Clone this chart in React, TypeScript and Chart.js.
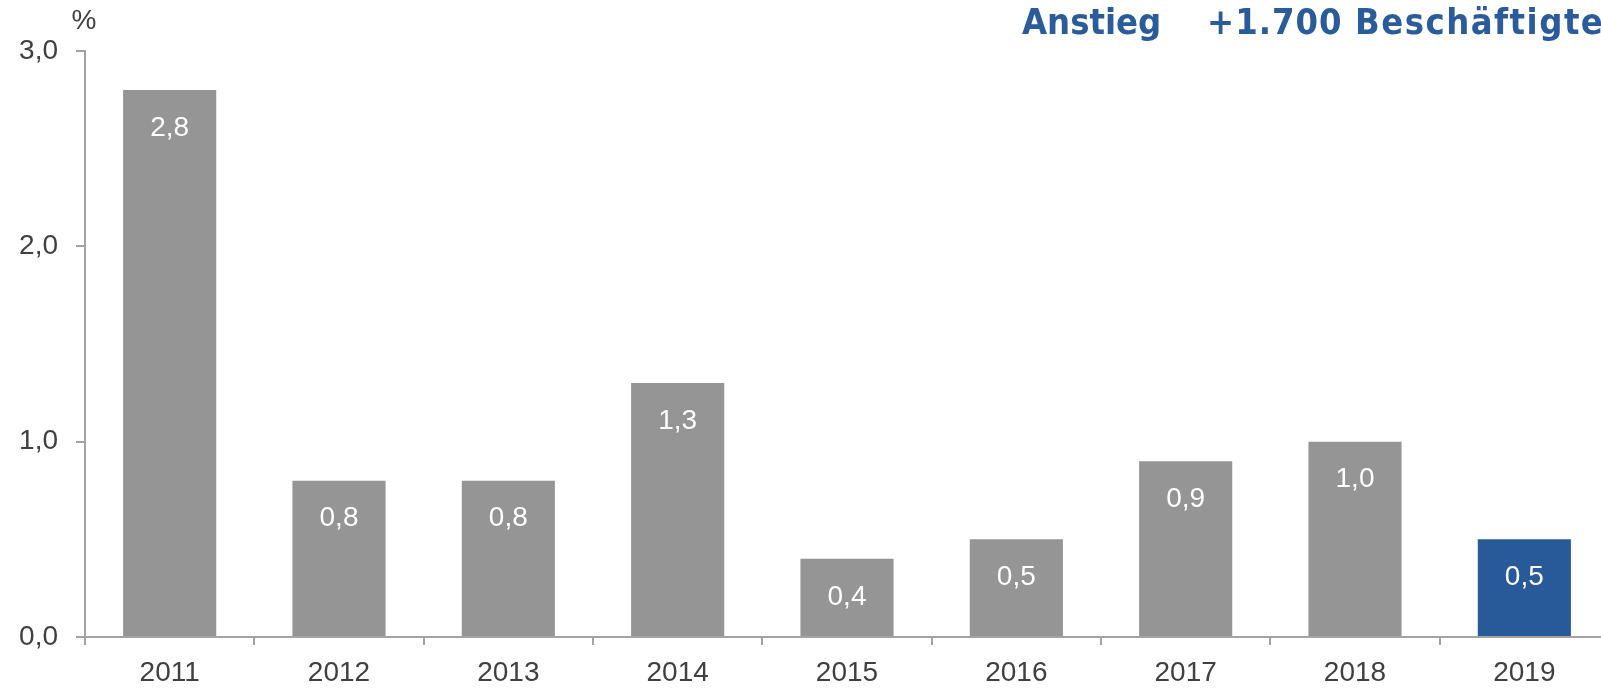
import React, { useEffect, useRef } from "react";
import { Chart, registerables } from "chart.js";

Chart.register(...registerables);

const categories = ["2011", "2012", "2013", "2014", "2015", "2016", "2017", "2018", "2019"];
const values = [2.8, 0.8, 0.8, 1.3, 0.4, 0.5, 0.9, 1.0, 0.5];
const barColors = ["#959595", "#959595", "#959595", "#959595", "#959595", "#959595", "#959595", "#959595", "#285A99"];
const yTicks = [0, 1, 2, 3];
const unitLabel = "%";
const titleParts = ["Anstieg", "+1.700", "Beschäftigte"];

const fmt = (v: number) => v.toFixed(1).replace(".", ",");

const AXIS_COLOR = "#A3A3A3";
const TEXT_COLOR = "#404040";
const FONT = "'Liberation Sans', Arial, sans-serif";

export default function App() {
  const ref = useRef<HTMLCanvasElement | null>(null);
  useEffect(() => {
    if (!ref.current) return;
    const labelPlugin = {
      id: "barLabels",
      afterDatasetsDraw(chart: any) {
        const ctx = chart.ctx;
        const meta = chart.getDatasetMeta(0);
        ctx.save();
        ctx.fillStyle = "#FFFFFF";
        ctx.font = `28px ${FONT}`;
        ctx.textAlign = "center";
        ctx.textBaseline = "middle";
        meta.data.forEach((bar: any, i: number) => {
          ctx.fillText(fmt(values[i]), bar.x, bar.y + 38);
        });
        ctx.restore();
      },
      afterDraw(chart: any) {
        const ctx = chart.ctx;
        ctx.save();
        ctx.fillStyle = TEXT_COLOR;
        ctx.font = `28px ${FONT}`;
        ctx.textAlign = "center";
        ctx.textBaseline = "middle";
        ctx.fillText(unitLabel, 84, 21);
        ctx.fillStyle = "#2A5B9A";
        ctx.font = `bold 36px "DejaVu Sans Condensed", "DejaVu Sans", sans-serif`;
        ctx.textAlign = "left";
        ctx.textBaseline = "alphabetic";
        const xs = [1022, 1207, 1355];
        const spacing = ["0px", "1px", "1.5px"];
        titleParts.forEach((t, i) => {
          (ctx as any).letterSpacing = spacing[i];
          ctx.fillText(t, xs[i], 34);
        });
        ctx.restore();
      },
    };
    const chart = new Chart(ref.current, {
      type: "bar",
      data: {
        labels: categories,
        datasets: [
          {
            data: values,
            backgroundColor: barColors,
            barPercentage: 0.55,
            categoryPercentage: 1,
          },
        ],
      },
      options: {
        responsive: false,
        animation: false,
        devicePixelRatio: 1,
        layout: { padding: { top: 51, left: 0, right: 0, bottom: 0 } },
        plugins: { legend: { display: false }, tooltip: { enabled: false }, title: { display: false } },
        scales: {
          x: {
            offset: true,
            afterFit: (s: any) => {
              s.height = 51;
            },
            grid: {
              offset: true,
              drawOnChartArea: false,
              drawTicks: true,
              tickLength: 8,
              color: AXIS_COLOR,
              lineWidth: 2,
            },
            border: { display: true, color: AXIS_COLOR, width: 2 },
            ticks: {
              color: TEXT_COLOR,
              font: { size: 28, family: FONT },
              padding: 11,
              maxRotation: 0,
            },
          },
          y: {
            min: 0,
            max: 3,
            afterFit: (s: any) => {
              s.width = 85;
            },
            afterBuildTicks: (s: any) => {
              s.ticks = yTicks.map((v) => ({ value: v }));
            },
            grid: {
              drawOnChartArea: false,
              drawTicks: true,
              tickLength: 9,
              color: AXIS_COLOR,
              lineWidth: 2,
            },
            border: { display: true, color: AXIS_COLOR, width: 2 },
            ticks: {
              color: TEXT_COLOR,
              font: { size: 28, family: FONT },
              padding: 18,
              callback: (v: any) => fmt(Number(v)),
            },
          },
        },
      },
      plugins: [labelPlugin],
    });
    return () => chart.destroy();
  }, []);
  return (
    <div style={{ position: "fixed", left: 0, top: 0, width: 1601, height: 688, overflow: "hidden", background: "#fff" }}>
      <canvas ref={ref} width={1609} height={688} style={{ display: "block", width: 1609, height: 688 }} />
    </div>
  );
}
